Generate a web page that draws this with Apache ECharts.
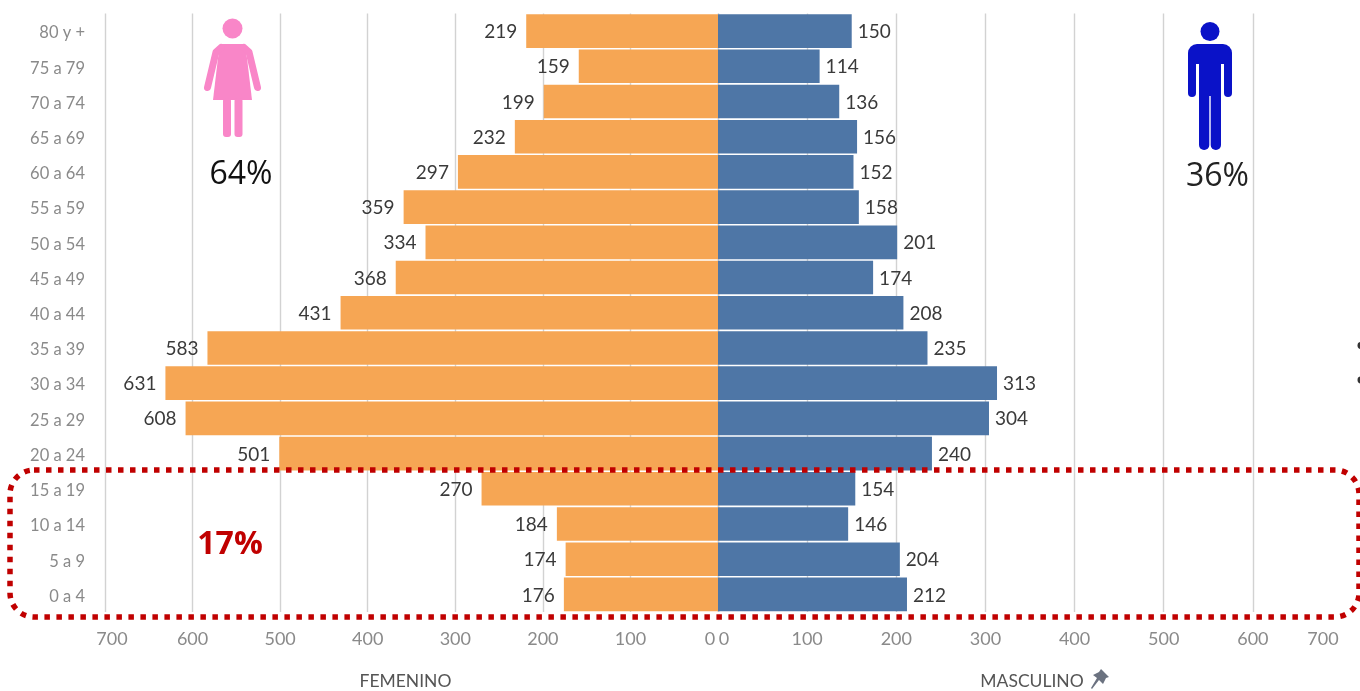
<!DOCTYPE html>
<html>
<head>
<meta charset="utf-8">
<style>html,body{margin:0;padding:0;background:#fff}#c{width:1360px;height:691px}</style>
<script src="https://cdn.jsdelivr.net/npm/echarts@6/dist/echarts.min.js"></script>
</head>
<body>
<div id="c"></div>
<script>
const ageGroups = ['80 y +','75 a 79','70 a 74','65 a 69','60 a 64','55 a 59','50 a 54','45 a 49','40 a 44','35 a 39','30 a 34','25 a 29','20 a 24','15 a 19','10 a 14','5 a 9','0 a 4'];
const femenino = [219,159,199,232,297,359,334,368,431,583,631,608,501,270,184,174,176];
const masculino = [150,114,136,156,152,158,201,174,208,235,313,304,240,154,146,204,212];
const axisMax = 700;
const axisStep = 100;

const FONT = 'Lato';
const chart = echarts.init(document.getElementById('c'), null, {renderer:'canvas'});

function valueAxis(gridIndex, inverse, name, namePad, rich, showMax) {
  return {
    type:'value', gridIndex, inverse, min:0, max:axisMax, interval:axisStep,
    name, nameLocation:'middle', nameGap:60,
    nameTextStyle:{fontFamily:FONT, fontSize:17.5, color:'#555', padding:namePad},
    axisLine:{show:false}, axisTick:{show:false},
    splitLine:{show:true, showMaxLine:showMax, lineStyle:{color:'#d2d2d2', width:1.4}},
    axisLabel:{
      margin:18, fontFamily:FONT, fontSize:18, color:'#8a8a8a',
      formatter:v => (v===0 ? '{z|0}' : v===axisMax ? '{m|'+v+'}' : String(v)),
      rich
    }
  };
}
function catAxis(gridIndex, show) {
  return {
    type:'category', gridIndex, data:ageGroups, inverse:true,
    axisLine:{show:false}, axisTick:{show:false}, splitLine:{show:false},
    axisLabel:{show, margin:20, align:'right', verticalAlign:'top', lineHeight:4, fontFamily:FONT, fontSize:16.5, color:'#8a8a8a'}
  };
}
function richFor(z, m){
  const base={fontFamily:FONT,fontSize:18,color:'#8a8a8a'};
  return {z:Object.assign({},base,{padding:z}), m:Object.assign({},base,{padding:m})};
}
function series(name, data, xi, pos, dist, color) {
  return {
    name, type:'bar', xAxisIndex:xi, yAxisIndex:xi, data, barCategoryGap:'4.5%', silent:true,
    itemStyle:{color},
    label:{show:true, position:pos, distance:dist, offset:[0,1], fontFamily:FONT, fontSize:19, color:'#3a3a3a'}
  };
}

const dotted = {type:'rect', z:100, silent:true,
  shape:{x:10, y:470, width:1349, height:147, r:24},
  style:{fill:'none', stroke:'#C00000', lineWidth:5.5, lineDash:[5.5,6.5]}};

const PINK='#F986C8', BLUE='#0A12C8';
const woman = {type:'group', z:50, silent:true, children:[
  {type:'circle', shape:{cx:232.5,cy:28.5,r:10}, style:{fill:PINK}},
  {type:'polygon', shape:{points:[[221,44],[244,44],[247,58],[252,100],[213,100],[218,58]]}, style:{fill:PINK}},
  {type:'polyline', shape:{points:[[221,47.5],[216,52],[207.5,87.5]]}, style:{stroke:PINK,lineWidth:7,lineCap:'round',lineJoin:'round',fill:'none'}},
  {type:'polyline', shape:{points:[[244,47.5],[249,52],[257.5,87.5]]}, style:{stroke:PINK,lineWidth:7,lineCap:'round',lineJoin:'round',fill:'none'}},
  {type:'rect', shape:{x:223,y:98,width:8,height:39,r:3}, style:{fill:PINK}},
  {type:'rect', shape:{x:234.5,y:98,width:8,height:39,r:3}, style:{fill:PINK}}
]};
const man = {type:'group', z:50, silent:true, children:[
  {type:'circle', shape:{cx:1210,cy:31.5,r:9.5}, style:{fill:BLUE}},
  {type:'rect', shape:{x:1188,y:44,width:44,height:20,r:[9,9,0,0]}, style:{fill:BLUE}},
  {type:'rect', shape:{x:1188,y:56,width:8,height:41,r:[0,0,4,4]}, style:{fill:BLUE}},
  {type:'rect', shape:{x:1224,y:56,width:8,height:41,r:[0,0,4,4]}, style:{fill:BLUE}},
  {type:'rect', shape:{x:1199,y:56,width:22,height:40}, style:{fill:BLUE}},
  {type:'rect', shape:{x:1199,y:90,width:10.3,height:60,r:[0,0,5,5]}, style:{fill:BLUE}},
  {type:'rect', shape:{x:1210.7,y:90,width:10.3,height:60,r:[0,0,5,5]}, style:{fill:BLUE}}
]};
const pin = {type:'polygon', z:50, silent:true,
  shape:{points:[[1103,671],[1109,677],[1106,678],[1103,684],[1099,680],[1092,689],[1091,688],[1097,678],[1093,675],[1099,672],[1101,669]]},
  style:{fill:'#6b7280'}};

chart.setOption({
  animation:false,
  backgroundColor:'#ffffff',
  grid:[
    {left:105, top:13.5, width:613, height:598.5, outerBoundsMode:'none'},
    {left:718, top:13.5, width:624, height:598.5, outerBoundsMode:'none'}
  ],
  xAxis:[
    valueAxis(0,true,'FEMENINO',[0,12,0,0],richFor([0,16,0,0],[0,0,0,14]),true),
    valueAxis(1,false,'MASCULINO',[0,0,0,4],richFor([0,0,0,12],[0,38,0,0]),false)
  ],
  yAxis:[catAxis(0,true),catAxis(1,false)],
  series:[
    series('Femenino',femenino,0,'left',9,'#F6A654'),
    series('Masculino',masculino,1,'right',6,'#4E76A6')
  ],
  graphic:[
    woman, man, pin, dotted,
    {type:'text', z:60, silent:true, style:{x:241,y:175,text:'64%',align:'center',verticalAlign:'middle',fontFamily:'Open Sans',fontSize:32,fill:'#111'}},
    {type:'text', z:60, silent:true, style:{x:1217.5,y:177,text:'36%',align:'center',verticalAlign:'middle',fontFamily:'Open Sans',fontSize:32,fill:'#222'}},
    {type:'text', z:60, silent:true, style:{x:230,y:545,text:'17%',align:'center',verticalAlign:'middle',fontFamily:'Open Sans',fontWeight:'bold',fontSize:32,fill:'#C00000'}},
    {type:'circle', z:60, silent:true, shape:{cx:1361,cy:345.5,r:3.5}, style:{fill:'#333'}},
    {type:'circle', z:60, silent:true, shape:{cx:1361,cy:380,r:3.5}, style:{fill:'#333'}}
  ]
});
</script>
</body>
</html>
